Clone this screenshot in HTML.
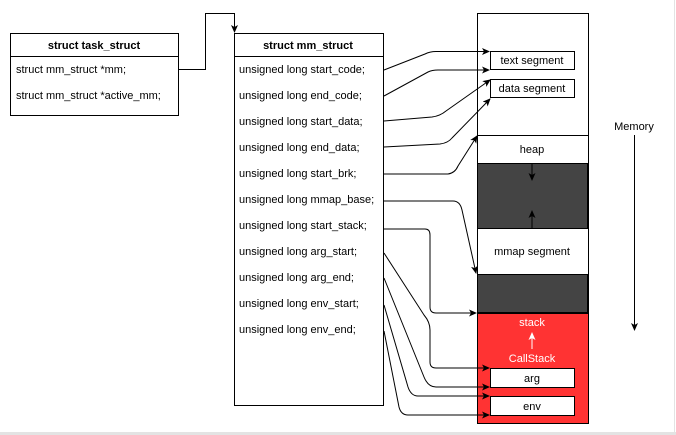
<!DOCTYPE html>
<html><head><meta charset="utf-8"><style>
html,body{margin:0;padding:0;background:#fff;}
body{width:676px;height:435px;overflow:hidden;position:relative;}
svg{position:absolute;left:0;top:0;}
text{font-family:"Liberation Sans",Arial,sans-serif;font-size:11px;fill:#000;}
</style></head><body>
<svg width="676" height="435" viewBox="0 0 676 435">
<defs>
<marker id="a" markerWidth="8" markerHeight="8" refX="7" refY="4" orient="auto" markerUnits="userSpaceOnUse">
<path d="M0,0.5 L8,4 L0,7.5 L2,4 z" fill="#000"/></marker>
<marker id="w" markerWidth="8" markerHeight="8" refX="7" refY="4" orient="auto" markerUnits="userSpaceOnUse">
<path d="M0,0.5 L8,4 L0,7.5 L2,4 z" fill="#fff"/></marker>
</defs>
<rect x="0" y="432" width="676" height="3" fill="#e3e3e3"/>
<line x1="674.5" y1="0" x2="674.5" y2="432" stroke="#e3e3e3"/>

<!-- task_struct -->
<rect x="10.5" y="33.5" width="168" height="82" fill="#fff" stroke="#000"/>
<line x1="10.5" y1="56.5" x2="178.5" y2="56.5" stroke="#000"/>
<text x="94" y="49" text-anchor="middle" font-weight="bold">struct task_struct</text>
<text x="16" y="73">struct mm_struct *mm;</text>
<text x="16" y="99">struct mm_struct *active_mm;</text>

<path d="M178.5,69.5 H205.5 V13.5 H234.5 V32" fill="none" stroke="#000" marker-end="url(#a)"/>

<!-- mm_struct -->
<rect x="234.5" y="33.5" width="149" height="372" fill="#fff" stroke="#000"/>
<line x1="234.5" y1="56.5" x2="383.5" y2="56.5" stroke="#000"/>
<text x="308" y="49" text-anchor="middle" font-weight="bold">struct mm_struct</text>
<text x="239" y="73">unsigned long start_code;</text>
<text x="239" y="99">unsigned long end_code;</text>
<text x="239" y="125">unsigned long start_data;</text>
<text x="239" y="151">unsigned long end_data;</text>
<text x="239" y="177">unsigned long start_brk;</text>
<text x="239" y="203">unsigned long mmap_base;</text>
<text x="239" y="229">unsigned long start_stack;</text>
<text x="239" y="255">unsigned long arg_start;</text>
<text x="239" y="281">unsigned long arg_end;</text>
<text x="239" y="307">unsigned long env_start;</text>
<text x="239" y="333">unsigned long env_end;</text>

<!-- memory column -->
<rect x="477.5" y="13.5" width="111" height="410" fill="#fff" stroke="#000"/>
<rect x="490.5" y="51.5" width="84" height="18" fill="#fff" stroke="#000"/>
<text x="532" y="64" text-anchor="middle">text segment</text>
<rect x="490.5" y="79.5" width="84" height="18" fill="#fff" stroke="#000"/>
<text x="532" y="92" text-anchor="middle">data segment</text>
<rect x="477.5" y="135.5" width="111" height="28" fill="#fff" stroke="#000"/>
<text x="532" y="153" text-anchor="middle">heap</text>
<rect x="477.5" y="163.5" width="110" height="65" fill="#444" stroke="#000"/>
<line x1="532" y1="164" x2="532" y2="180" stroke="#000" marker-end="url(#a)"/>
<line x1="532" y1="228" x2="532" y2="211" stroke="#000" marker-end="url(#a)"/>
<rect x="477.5" y="228.5" width="111" height="46" fill="#fff" stroke="#000"/>
<text x="532" y="255" text-anchor="middle">mmap segment</text>
<rect x="477.5" y="274.5" width="110" height="38" fill="#444" stroke="#000"/>
<rect x="477.5" y="313.5" width="111" height="110" fill="#ff3333" stroke="#000"/>
<text x="532" y="326" text-anchor="middle" style="fill:#fff">stack</text>
<line x1="532" y1="349" x2="532" y2="333" stroke="#fff" marker-end="url(#w)"/>
<text x="532" y="362" text-anchor="middle" style="fill:#fff">CallStack</text>
<rect x="490.5" y="368.5" width="84" height="19" fill="#fff" stroke="#000"/>
<text x="532" y="382" text-anchor="middle">arg</text>
<rect x="490.5" y="396.5" width="84" height="19" fill="#fff" stroke="#000"/>
<text x="532" y="410" text-anchor="middle">env</text>

<!-- Memory label -->
<text x="634" y="130" text-anchor="middle">Memory</text>
<line x1="634.5" y1="135" x2="634.5" y2="330" stroke="#000" marker-end="url(#a)"/>

<!-- connectors -->
<g fill="none" stroke="#000">
<path d="M384,70 L425,54 Q430,51.5 436,51.5 L489,51.5" marker-end="url(#a)"/>
<path d="M384,96 L428,72 Q432,70 438,70 L489,70" marker-end="url(#a)"/>
<path d="M384,121 L432,117 Q440,116 446,111 L490,80" marker-end="url(#a)"/>
<path d="M384,147 L440,144 Q448,143 452,138 L490,99" marker-end="url(#a)"/>
<path d="M384,174 L448,174 Q455,173 458,166 L477,136" marker-end="url(#a)"/>
<path d="M384,201 L453,201 Q460,201 462,210 L476,273" marker-end="url(#a)"/>
<path d="M384,229 L425,229 Q430,229 430,235 L430,307 Q430,313 436,313 L476,313" marker-end="url(#a)"/>
<path d="M384,253 L424,315 Q430,322 430,330 L430,362 Q430,368 436,368 L489,368" marker-end="url(#a)"/>
<path d="M384,278 L424,377 Q428,387 436,387 L489,387" marker-end="url(#a)"/>
<path d="M384,305 L408,387 Q411,396 418,396 L489,396" marker-end="url(#a)"/>
<path d="M384,331 L399,407 Q401,415 408,415 L489,415" marker-end="url(#a)"/>
</g>
</svg>
</body></html>
